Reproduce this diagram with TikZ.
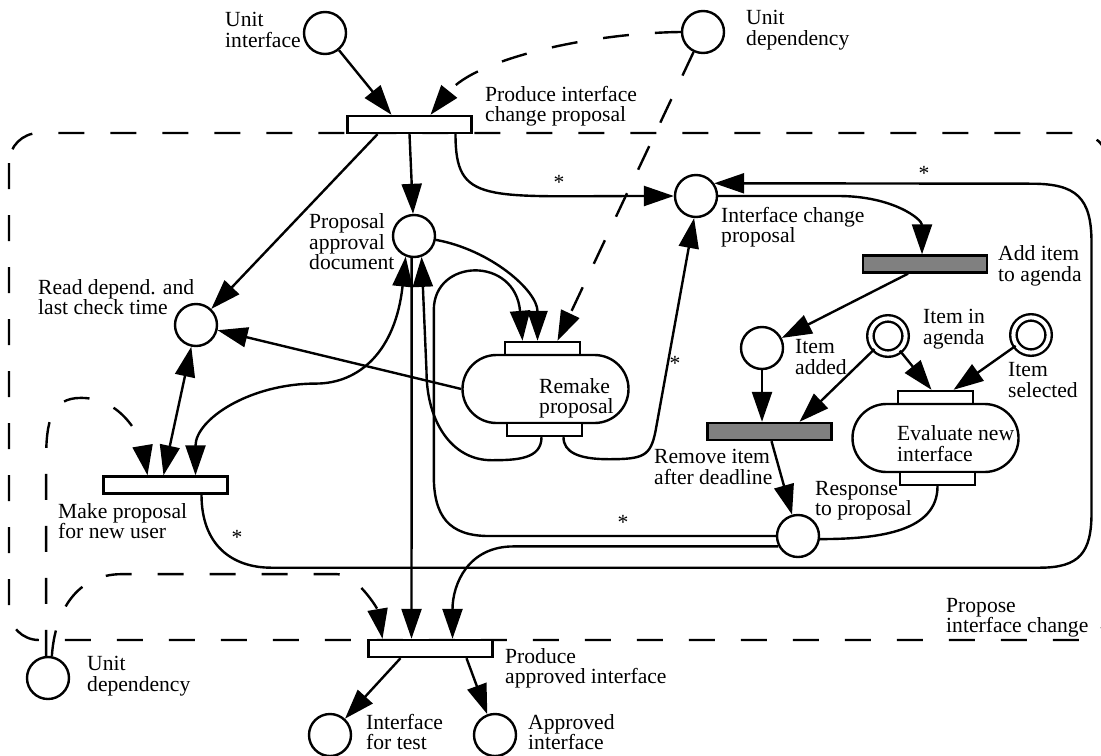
\documentclass[tikz,border=0pt]{standalone}
\usepackage{fontspec}
\setmainfont{Liberation Serif}
\usetikzlibrary{arrows.meta,calc}

\begin{document}
\begin{tikzpicture}[x=0.5pt, y=-0.5pt, line width=1.2pt,
  font=\fontsize{10.8}{10.2}\selectfont, >={Triangle[length=15pt,width=10pt]},
  place/.style={circle, draw, fill=white, minimum size=21pt, inner sep=0pt},
  fusion/.style={circle, draw, double, double distance=2pt, fill=white, minimum size=17.6pt, inner sep=0pt},
  trans/.style={rectangle, draw, fill=white, minimum width=62pt, minimum height=8.5pt, inner sep=0pt},
  gtrans/.style={trans, fill=black!50},
  subst/.style={rectangle, draw, fill=white, rounded corners=17pt, minimum width=83pt, minimum height=34pt, inner sep=0pt},
  port/.style={rectangle, draw, fill=white, minimum width=37.5pt, minimum height=6.5pt, inner sep=0pt},
  lbl/.style={anchor=west, align=left, inner sep=0pt},
  dashy/.style={dash pattern=on 13pt off 13pt}]
  \useasboundingbox (0,0) rectangle (1101,755);
  \clip (0,0) rectangle (1101,755);

  % page boundary
  \draw[dashy, rounded corners=15pt] (9,133) rectangle (1108,640);

  % places and transitions
  \node[place] (unitif) at (325,33) {};
  \node[place] (unitdep) at (703,32) {};
  \node[trans] (chgprop) at (409.5,124.5) {};
  \node[place] (appdoc) at (414,236) {};
  \node[place] (icp) at (696,196) {};
  \node[place] (readdep) at (196,325) {};
  \node[gtrans] (additem) at (925,264) {};
  \node[place] (itemadd) at (762,348) {};
  \node[fusion] (inagenda) at (888,336) {};
  \node[fusion] (selected) at (1031,335) {};
  \node[port] (remaketop) at (542.5,348.5) {};
  \node[subst] (remake) at (545.5,389) {};
  \node[port] (remakebot) at (544.5,429.5) {};
  \node[port] (evaltop) at (935.5,397.5) {};
  \node[subst] (evaluate) at (935.5,438) {};
  \node[port] (evalbot) at (937.5,478.5) {};
  \node[gtrans] (remove) at (769.5,431.5) {};
  \node[place] (response) at (798,536) {};
  \node[trans] (makeprop) at (165.5,485) {};
  \node[trans] (approve) at (430.5,648.5) {};
  \node[place] (unitdep2) at (48,678) {};
  \node[place] (iftest) at (330,735) {};
  \node[place] (approved) at (495,735) {};

  % arcs
  \draw[->] (unitif) -- ($(chgprop.north)+(-18,0)$);
  \draw[->, dashy] (unitdep.west) .. controls +(-90,1) and +(45,-56) .. ($(chgprop.north)+(21,0)$);
  \draw[->, dashy] (unitdep) -- ($(remaketop.north)+(15,0)$);
  \draw[->] ($(chgprop.south)+(-32,0)$) -- (readdep);
  \draw[->] (chgprop.south) -- (appdoc);
  \draw[->] ($(chgprop.south)+(46,0)$) .. controls +(0,70) and +(-190,0) .. (icp.west);
  \draw[->] (appdoc.-10) .. controls +(55,10) and +(0,-50) .. ($(remaketop.north)+(-5,0)$);
  \draw[->] (response.west) -- ++(-287,0) .. controls +(-40,0) and +(0,40) .. ++(-55,-60)
    -- ++(0,-166) .. controls +(0,-52) and +(-7,-85) .. ($(remaketop.north)+(-20,0)$);
  \draw[->] ($(remakebot.south)+(-3,0)$) .. controls +(0,22) and +(25,0) .. ++(-50,23)
    .. controls +(-40,0) and +(0,50) .. ++(-65,-89) -- (appdoc.-70);
  \draw[->] ($(remakebot.south)+(19,0)$) .. controls +(0,15) and +(-30,0) .. ++(45,22)
    .. controls +(35,0) and +(-5,25) .. ++(47,-28) -- (icp.-95);
  \draw[->] (remake.west) -- (readdep);
  \draw[<->] (readdep) -- ($(makeprop.north)+(-2,0)$);
  \draw[<->] (appdoc.-112) .. controls +(-10,94) and +(44,0) .. ++(-90,127)
    .. controls +(-66,0) and +(0,-56) .. ($(makeprop.north)+(30,0)$);
  \draw[->] (appdoc.-96) -- ($(approve.north)+(-19,0)$);
  \draw[->] ($(makeprop.south)+(36,0)$) .. controls +(0,50) and +(-40,0) .. ++(70,73) -- ++(768,0)
    .. controls +(40,0) and +(0,40) .. ++(52,-55) -- ++(0,-270)
    .. controls +(0,-45) and +(45,0) .. ++(-60,-59) -- (icp.35);
  \draw[->] (icp.east) -- ++(120,0) .. controls +(55,0) and +(0,-35) .. ($(additem.north)+(-3,0)$);
  \draw[->] ($(additem.south)+(-17,0)$) -- (itemadd);
  \draw[->] (itemadd) -- (itemadd |- remove.north);
  \draw[->] (inagenda) -- ($(remove.north)+(30,0)$);
  \draw[->] (inagenda) -- ($(evaltop.north)+(-4,0)$);
  \draw[->] (selected) -- ($(evaltop.north)+(18,0)$);
  \draw[->] ($(remove.south)+(2,0)$) -- (response);
  \draw (evalbot.south) .. controls +(0,45) and +(60,0) .. (response.-8);
  \draw[->] (response.-152) -- ++(-265,0) .. controls +(-45,0) and +(0,-55) .. ($(approve.north)+(22,0)$);
  \draw[->] ($(approve.south)+(-30,0)$) -- (iftest);
  \draw[->] ($(approve.south)+(36,0)$) -- (approved);
  \draw[->, dashy] (unitdep2.95) -- ++(0,-195) .. controls +(0,-40) and +(-30,0) .. ++(35,-63)
    .. controls +(45,0) and +(-5,-30) .. ($(makeprop.north)+(-18,0)$);
  \draw[->, dashy] (unitdep2.80) .. controls +(3,-45) and +(-45,0) .. ++(70,-82) -- ++(215,0)
    .. controls +(20,0) and +(-5,-30) .. ($(approve.north)+(-48,0)$);

  % labels
  \node[lbl] (unitif-l) at (224,30) {Unit\\interface};
  \node[lbl] (unitdep-l) at (745,30) {Unit\\dependency};
  \node[lbl] (chgprop-l) at (484,106) {Produce interface\\change proposal};
  \node[lbl] (appdoc-l) at (308,242) {Proposal\\approval\\document};
  \node[lbl] (readdep-l) at (37,297) {Read depend. and\\last check time};
  \node[lbl] (icp-l) at (720,227) {Interface change\\proposal};
  \node[lbl] (additem-l) at (997,266) {Add item\\to agenda};
  \node[lbl] (itemadd-l) at (794,357) {Item\\added};
  \node[lbl] (inagenda-l) at (922,329) {Item in\\agenda};
  \node[lbl] (selected-l) at (1007,380) {Item\\selected};
  \node[lbl] (remake-l) at (538,398.5) {Remake\\proposal};
  \node[lbl] (evaluate-l) at (896,443.5) {Evaluate new\\interface};
  \node[lbl] (remove-l) at (653,467) {Remove item\\after deadline};
  \node[lbl] (response-l) at (814,500.5) {Response\\to proposal};
  \node[lbl] (makeprop-l) at (57,521) {Make proposal\\for new user};
  \node[lbl] (module-l) at (945,618) {Propose\\interface change};
  \node[lbl] (approve-l) at (504,668) {Produce\\approved interface};
  \node[lbl] (unitdep2-l) at (86,676) {Unit\\dependency};
  \node[lbl] (iftest-l) at (365,732) {Interface\\for test};
  \node[lbl] (approved-l) at (527,732) {Approved\\interface};
  \foreach \p [count=\i] in {(559,182), (924,173), (675,363), (623,522), (237,537)}
    \node[inner sep=0pt] (star\i) at \p {*};
\end{tikzpicture}
\end{document}
